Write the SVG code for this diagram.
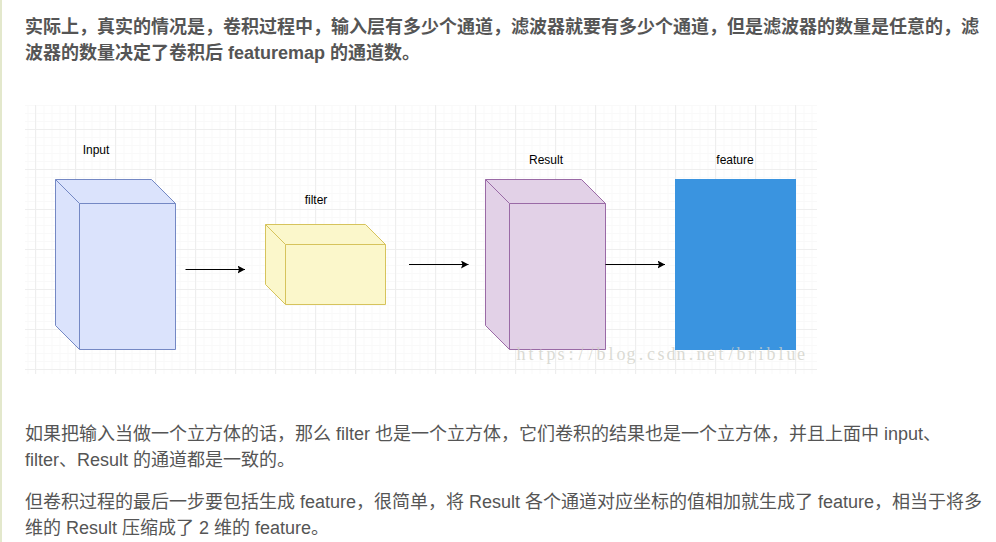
<svg xmlns="http://www.w3.org/2000/svg" width="996" height="542" viewBox="0 0 996 542">
<style>
.p{font-family:"Liberation Sans","Noto Sans CJK SC",sans-serif;font-size:18px;fill:#555}
.b{font-weight:bold;font-size:18px}
.l{font-family:"Liberation Sans",sans-serif;font-size:12px;fill:#000;text-anchor:middle}
.c{stroke:#000;stroke-width:1;fill:none;marker-end:url(#a)}
</style>
<defs>
<marker id="a" markerUnits="userSpaceOnUse" markerWidth="9" markerHeight="9" refX="7.500" refY="4" orient="auto"><path d="M0 0L7.500 4L0 8L1.500 4Z" fill="#000"/></marker>
<pattern id="g1" width="8" height="8" x="27.500" y="1" patternUnits="userSpaceOnUse"><path d="M.5 0V8M0 .5H8" stroke="#f9f9f9" stroke-width="1" fill="none"/></pattern>
<pattern id="g2" width="40" height="40" x="35" y="9" patternUnits="userSpaceOnUse"><path d="M.5 0V40M0 .5H40" stroke="#eeeeee" stroke-width="1" fill="none"/></pattern>
</defs>
<rect width="996" height="542" fill="#fff"/>
<rect width="2" height="542" fill="#e3e8cc"/>
<g id="grid"><rect x="25" y="105" width="792" height="269" fill="url(#g1)"/><rect x="25" y="105" width="792" height="269" fill="url(#g2)"/></g>
<text class="p b" x="25" y="33">实际上，真实的情况是，卷积过程中，输入层有多少个通道，滤波器就要有多少个通道，但是滤波器的数量是任意的，滤</text>
<text class="p b" x="25" y="59">波器的数量决定了卷积后 featuremap 的通道数。</text>
<g id="input"><path d="M55.500 179.500H151.500L175.500 203.500V349.500H79.500L55.500 325.500Z" fill="#dbe3fc" stroke="#7488c4"/><path d="M55.500 179.500L79.500 203.500H175.500M79.500 203.500V349.500" fill="none" stroke="#7488c4"/><text class="l" x="96" y="154">Input</text></g>
<g id="filter"><path d="M265.500 224.500H365.500L385.500 244.500V304.500H285.500L265.500 284.500Z" fill="#fbf7cb" stroke="#d6c35c"/><path d="M265.500 224.500L285.500 244.500H385.500M285.500 244.500V304.500" fill="none" stroke="#d6c35c"/><text class="l" x="316" y="204">filter</text></g>
<g id="result"><path d="M485.500 179.500H581.500L605.500 203.500V349.500H509.500L485.500 325.500Z" fill="#e2d1e7" stroke="#9a6aa6"/><path d="M485.500 179.500L509.500 203.500H605.500M509.500 203.500V349.500" fill="none" stroke="#9a6aa6"/><text class="l" x="546" y="164">Result</text></g>
<g id="feature"><rect x="675" y="179" width="121" height="171" fill="#3a94e0"/><text class="l" x="735" y="164">feature</text></g>
<g id="connectors"><path class="c" d="M185.500 269.500H245"/><path class="c" d="M409 264.500H468.500"/><path class="c" d="M605.500 264.500H665"/></g>
<text x="521 531 541 551 561 571 581 591 601 611 621 631 641 651 661 671 681 691 701 711 721 731 741 751 761 771 781 791 801" y="360" text-anchor="middle" font-family="Liberation Serif,serif" font-size="18" fill="#cfcfc6" fill-opacity=".75">https://blog.csdn.net/briblue</text>
<text class="p" x="25" y="440">如果把输入当做一个立方体的话，那么 filter 也是一个立方体，它们卷积的结果也是一个立方体，并且上面中 input、</text>
<text class="p" x="25" y="466">filter、Result 的通道都是一致的。</text>
<text class="p" x="25" y="508">但卷积过程的最后一步要包括生成 feature，很简单，将 Result 各个通道对应坐标的值相加就生成了 feature，相当于将多</text>
<text class="p" x="25" y="534">维的 Result 压缩成了 2 维的 feature。</text>
</svg>
